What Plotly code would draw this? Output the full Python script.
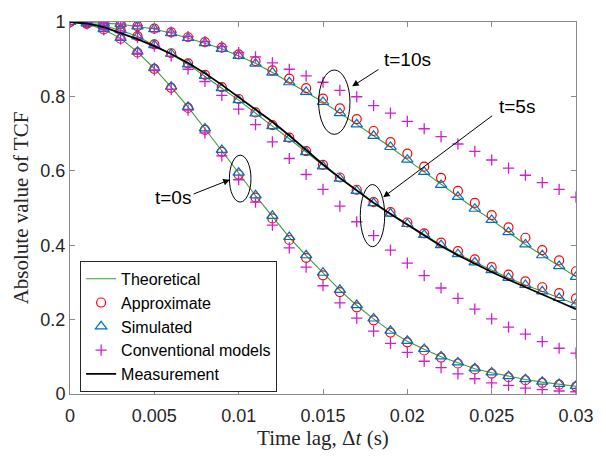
import plotly.graph_objects as go

# ---- data ----
dt = [0.000, 0.001, 0.002, 0.003, 0.004, 0.005, 0.006, 0.007, 0.008, 0.009,
      0.010, 0.011, 0.012, 0.013, 0.014, 0.015, 0.016, 0.017, 0.018, 0.019,
      0.020, 0.021, 0.022, 0.023, 0.024, 0.025, 0.026, 0.027, 0.028, 0.029, 0.030]

theo_t0 = [1.000, 0.995, 0.980, 0.956, 0.919, 0.875, 0.825, 0.771, 0.713, 0.655,
           0.594, 0.533, 0.478, 0.421, 0.372, 0.325, 0.279, 0.238, 0.202, 0.169,
           0.142, 0.120, 0.100, 0.084, 0.068, 0.057, 0.047, 0.039, 0.032, 0.026, 0.021]
theo_t5 = [1.000, 0.997, 0.990, 0.978, 0.961, 0.938, 0.914, 0.886, 0.855, 0.822,
           0.790, 0.754, 0.720, 0.686, 0.650, 0.613, 0.579, 0.546, 0.513, 0.485,
           0.457, 0.428, 0.400, 0.376, 0.354, 0.333, 0.312, 0.293, 0.276, 0.258, 0.241]
theo_t10 = [1.000, 0.999, 0.997, 0.994, 0.988, 0.981, 0.970, 0.957, 0.943, 0.928,
            0.909, 0.889, 0.864, 0.838, 0.812, 0.785, 0.755, 0.725, 0.694, 0.664,
            0.630, 0.597, 0.562, 0.530, 0.498, 0.468, 0.435, 0.402, 0.373, 0.344, 0.315]

appr_t0 = [1.000, 0.995, 0.980, 0.955, 0.918, 0.874, 0.823, 0.769, 0.710, 0.651,
           0.590, 0.528, 0.472, 0.414, 0.366, 0.319, 0.274, 0.233, 0.198, 0.165,
           0.139, 0.117, 0.098, 0.082, 0.066, 0.055, 0.045, 0.037, 0.030, 0.025, 0.020]
appr_t5 = [1.000, 0.997, 0.990, 0.979, 0.962, 0.940, 0.916, 0.889, 0.858, 0.825,
           0.793, 0.757, 0.723, 0.689, 0.653, 0.616, 0.582, 0.549, 0.516, 0.489,
           0.461, 0.432, 0.407, 0.384, 0.362, 0.341, 0.321, 0.303, 0.287, 0.271, 0.257]
appr_t10 = [1.000, 0.999, 0.997, 0.994, 0.989, 0.982, 0.972, 0.959, 0.946, 0.931,
            0.913, 0.895, 0.870, 0.848, 0.822, 0.794, 0.768, 0.739, 0.707, 0.677,
            0.646, 0.611, 0.581, 0.546, 0.514, 0.481, 0.448, 0.420, 0.387, 0.359, 0.330]

sim_t0 = [1.000, 0.996, 0.981, 0.957, 0.920, 0.876, 0.826, 0.772, 0.714, 0.656,
          0.595, 0.534, 0.479, 0.422, 0.373, 0.326, 0.280, 0.239, 0.203, 0.170,
          0.143, 0.121, 0.101, 0.085, 0.069, 0.058, 0.048, 0.040, 0.033, 0.027, 0.022]
sim_t5 = [1.000, 0.997, 0.990, 0.978, 0.961, 0.938, 0.914, 0.886, 0.855, 0.822,
          0.790, 0.754, 0.720, 0.686, 0.650, 0.612, 0.579, 0.546, 0.513, 0.485,
          0.457, 0.428, 0.400, 0.376, 0.354, 0.333, 0.312, 0.293, 0.276, 0.258, 0.241]
sim_t10 = [1.000, 0.999, 0.997, 0.994, 0.988, 0.981, 0.970, 0.957, 0.943, 0.928,
           0.909, 0.888, 0.864, 0.838, 0.812, 0.785, 0.755, 0.725, 0.694, 0.664,
           0.630, 0.597, 0.562, 0.530, 0.498, 0.468, 0.435, 0.402, 0.373, 0.344, 0.315]

conv_t0 = [1.000, 0.995, 0.979, 0.954, 0.916, 0.871, 0.819, 0.763, 0.702, 0.640,
           0.576, 0.516, 0.454, 0.393, 0.341, 0.291, 0.245, 0.204, 0.169, 0.136,
           0.112, 0.088, 0.071, 0.054, 0.041, 0.030, 0.023, 0.016, 0.012, 0.008, 0.006]
conv_t5 = [1.000, 0.997, 0.989, 0.976, 0.958, 0.935, 0.908, 0.873, 0.840, 0.803,
           0.766, 0.724, 0.678, 0.633, 0.590, 0.550, 0.505, 0.463, 0.426, 0.387,
           0.352, 0.318, 0.285, 0.257, 0.228, 0.202, 0.180, 0.161, 0.141, 0.123, 0.110]
conv_t10 = [1.000, 0.999, 0.998, 0.995, 0.990, 0.983, 0.973, 0.961, 0.947, 0.934,
            0.918, 0.906, 0.890, 0.873, 0.855, 0.838, 0.816, 0.799, 0.775, 0.755,
            0.733, 0.713, 0.692, 0.672, 0.652, 0.629, 0.607, 0.588, 0.568, 0.550, 0.529]

meas_t5 = [1.000, 0.996, 0.986, 0.971, 0.954, 0.935, 0.914, 0.890, 0.862, 0.831,
           0.798, 0.766, 0.732, 0.695, 0.656, 0.617, 0.581, 0.547, 0.514, 0.484,
           0.455, 0.426, 0.398, 0.373, 0.350, 0.328, 0.307, 0.288, 0.267, 0.248, 0.228]

x_ticks = [0, 0.005, 0.01, 0.015, 0.02, 0.025, 0.03]
x_tick_text = ["0", "0.005", "0.01", "0.015", "0.02", "0.025", "0.03"]
y_ticks = [0, 0.2, 0.4, 0.6, 0.8, 1.0]
y_tick_text = ["0", "0.2", "0.4", "0.6", "0.8", "1"]

GREEN = "#3C9C3C"
RED = "#FF0000"
BLUE = "#0072BD"
MAG = "#CC22CC"

fig = go.Figure()

for i, ys in enumerate([theo_t0, theo_t5, theo_t10]):
    fig.add_trace(go.Scatter(x=dt, y=ys, mode="lines", name="Theoretical",
                             line=dict(color=GREEN, width=1.1),
                             legendgroup="theo", showlegend=(i == 0)))
for i, ys in enumerate([appr_t0, appr_t5, appr_t10]):
    fig.add_trace(go.Scatter(x=dt, y=ys, mode="markers", name="Approximate",
                             marker=dict(symbol="circle-open", size=9, color=RED,
                                         line=dict(width=1.2, color=RED)),
                             legendgroup="appr", showlegend=(i == 0)))
for i, ys in enumerate([sim_t0, sim_t5, sim_t10]):
    fig.add_trace(go.Scatter(x=dt, y=ys, mode="markers", name="Simulated",
                             marker=dict(symbol="triangle-up-open", size=10, color=BLUE,
                                         line=dict(width=1.2, color=BLUE)),
                             legendgroup="sim", showlegend=(i == 0)))
for i, ys in enumerate([conv_t0, conv_t5, conv_t10]):
    fig.add_trace(go.Scatter(x=dt, y=ys, mode="markers", name="Conventional models",
                             marker=dict(symbol="cross-thin-open", size=8, color=MAG,
                                         line=dict(width=1.3, color=MAG)),
                             legendgroup="conv", showlegend=(i == 0)))
fig.add_trace(go.Scatter(x=dt, y=meas_t5, mode="lines", name="Measurement",
                         line=dict(color="black", width=1.8)))

# ellipses (data coordinates)
ellipses = [
    (0.00945, 0.01073, 0.516, 0.642),
    (0.01721, 0.01866, 0.396, 0.563),
    (0.01474, 0.01660, 0.698, 0.871),
]
for x0, x1, y0, y1 in ellipses:
    fig.add_shape(type="circle", xref="x", yref="y", x0=x0, x1=x1, y0=y0, y1=y1,
                  line=dict(color="black", width=1))

# arrows: (head x, head y, tail x, tail y)
arrows = [
    (0.00947, 0.576, 0.00724, 0.536),
    (0.01857, 0.529, 0.02512, 0.751),
    (0.01673, 0.827, 0.01838, 0.875),
]
for hx, hy, tx, ty in arrows:
    fig.add_annotation(x=hx, y=hy, ax=tx, ay=ty, xref="x", yref="y", axref="x", ayref="y",
                       text="", showarrow=True, arrowhead=2, arrowsize=1.3,
                       arrowwidth=1, arrowcolor="black")

labels = [("t=0s", 0.00608, 0.529), ("t=5s", 0.02648, 0.7725), ("t=10s", 0.02003, 0.900)]
for txt, lx, ly in labels:
    fig.add_annotation(x=lx, y=ly, xref="x", yref="y", text=txt, showarrow=False,
                       font=dict(family="Liberation Sans, Arial", size=19, color="black"))

AX = "#8a8a8a"
fig.update_layout(
    width=606, height=457,
    margin=dict(l=70, r=19, t=13, b=62),
    paper_bgcolor="white", plot_bgcolor="white",
    font=dict(family="Liberation Sans, Arial", size=15, color="#262626"),
    showlegend=True,
    legend=dict(x=0.02, y=0.358, xanchor="left", yanchor="top",
                bgcolor="white", bordercolor="#262626", borderwidth=1,
                font=dict(family="Liberation Sans, Arial", size=16, color="black"),
                tracegroupgap=0, itemwidth=30),
)
fig.update_xaxes(range=[0, 0.03], tickvals=x_ticks, ticktext=x_tick_text,
                 showline=True, linecolor=AX, linewidth=1, mirror="ticks",
                 ticks="inside", ticklen=5, tickcolor=AX, showgrid=False, zeroline=False,
                 tickfont=dict(size=18, color="#262626"), ticklabelstandoff=5,
                 title=dict(text="Time lag, Δ<i>t</i> (s)", standoff=5,
                            font=dict(family="Liberation Serif, Times New Roman", size=21,
                                      color="#262626")))
fig.update_yaxes(range=[0, 1], tickvals=y_ticks, ticktext=y_tick_text,
                 showline=True, linecolor=AX, linewidth=1, mirror="ticks",
                 ticks="inside", ticklen=5, tickcolor=AX, showgrid=False, zeroline=False,
                 tickfont=dict(size=18, color="#262626"),
                 title=dict(text="Absolute value of TCF", standoff=6,
                            font=dict(family="Liberation Serif, Times New Roman", size=21,
                                      color="#262626")))

fig.write_html("out.html")
